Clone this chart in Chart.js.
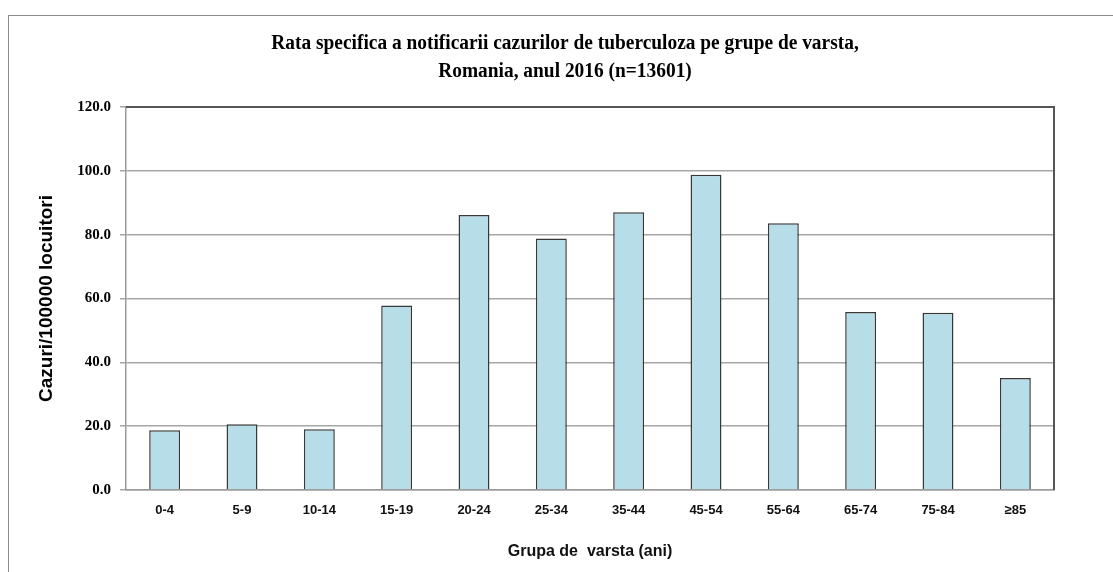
<!DOCTYPE html>
<html>
<head>
<meta charset="utf-8">
<title>Rata specifica a notificarii cazurilor de tuberculoza</title>
<script src="https://cdn.jsdelivr.net/npm/chart.js@4.4.1/dist/chart.umd.min.js"></script>
<style>
  html, body { margin: 0; padding: 0; background: #fff; }
  #wrap { width: 1113px; height: 572px; position: relative; }
</style>
</head>
<body>
<div id="wrap"><canvas id="grafic"></canvas></div>
<script>
const grupeVarsta = ["0-4", "5-9", "10-14", "15-19", "20-24", "25-34", "35-44", "45-54", "55-64", "65-74", "75-84", "≥85"];
const rataNotificare = [18.7, 20.6, 19.0, 57.8, 86.2, 78.8, 87.0, 98.8, 83.6, 55.8, 55.5, 35.1];
const titluGrafic = [
  "Rata specifica a notificarii cazurilor de tuberculoza pe grupe de varsta,",
  "Romania, anul 2016 (n=13601)",
];
const titluY = "Cazuri/100000 locuitori";
const titluX = "Grupa de  varsta (ani)";
const yMin = 0;
const yMax = 120;
const yPas = 20;

// rama exterioara, titlul si marginile de sus/dreapta ale zonei graficului
const ramaSiTitlu = {
  id: "ramaSiTitlu",
  beforeDraw(chart) {
    const ctx = chart.ctx;
    ctx.save();
    ctx.strokeStyle = "#8c8c8c";
    ctx.lineWidth = 1;
    ctx.strokeRect(8.5, 15.5, chart.width + 20, chart.height + 20);
    ctx.restore();
  },
  afterDraw(chart) {
    const ctx = chart.ctx;
    const a = chart.chartArea;
    ctx.save();
    ctx.strokeStyle = "#555";
    ctx.lineWidth = 2;
    ctx.beginPath();
    ctx.moveTo(a.left, a.top);
    ctx.lineTo(a.right, a.top);
    ctx.lineTo(a.right, a.bottom);
    ctx.stroke();

    ctx.fillStyle = "#000";
    ctx.font = "bold 20px 'Liberation Serif', 'Times New Roman', serif";
    ctx.textAlign = "center";
    ctx.textBaseline = "middle";
    const liniiY = [44, 72];
    titluGrafic.forEach((t, i) => {
      ctx.save();
      ctx.translate(565, liniiY[i]);
      ctx.scale(0.97, 1);
      ctx.fillText(t, 0, 0);
      ctx.restore();
    });
    ctx.restore();
  },
};

const ctx = document.getElementById("grafic").getContext("2d");
new Chart(ctx, {
  type: "bar",
  data: {
    labels: grupeVarsta,
    datasets: [
      {
        label: "Cazuri/100000 locuitori",
        data: rataNotificare,
        backgroundColor: "#b7dde8",
        borderColor: "#383838",
        borderWidth: 1.5,
        barPercentage: 0.4,
        categoryPercentage: 1,
      },
    ],
  },
  options: {
    responsive: true,
    maintainAspectRatio: false,
    animation: false,
    layout: { padding: { top: 107, right: 59, bottom: 0, left: 0 } },
    plugins: {
      legend: { display: false },
      tooltip: { enabled: false },
    },
    scales: {
      x: {
        grid: { display: false, drawTicks: false },
        border: { color: "#9a9a9a", width: 1.5 },
        ticks: {
          color: "#111",
          padding: 13,
          maxRotation: 0,
          font: { family: "'Liberation Sans', Arial", size: 13, weight: "bold" },
        },
        title: {
          display: true,
          text: titluX,
          color: "#111",
          padding: { top: 0, bottom: 11 },
          font: { family: "'Liberation Sans', Arial", size: 16, weight: "bold" },
        },
        afterFit(scale) {
          scale.height = 82;
        },
      },
      y: {
        min: yMin,
        max: yMax,
        grid: { color: "#a6a6a6", lineWidth: 1.5, tickLength: 6, tickColor: "#a6a6a6" },
        border: { color: "#9a9a9a", width: 1.5 },
        ticks: {
          stepSize: yPas,
          color: "#000",
          padding: 9,
          font: { family: "'Liberation Serif', 'Times New Roman', serif", size: 15, weight: "bold" },
          callback: (v) => Number(v).toFixed(1),
        },
        title: {
          display: true,
          text: titluY,
          color: "#000",
          padding: { top: 35, bottom: 0 },
          font: { family: "'Liberation Sans', Arial", size: 19, weight: "bold" },
        },
        afterFit(scale) {
          scale.width = 126;
        },
      },
    },
  },
  plugins: [ramaSiTitlu],
});
</script>
</body>
</html>
